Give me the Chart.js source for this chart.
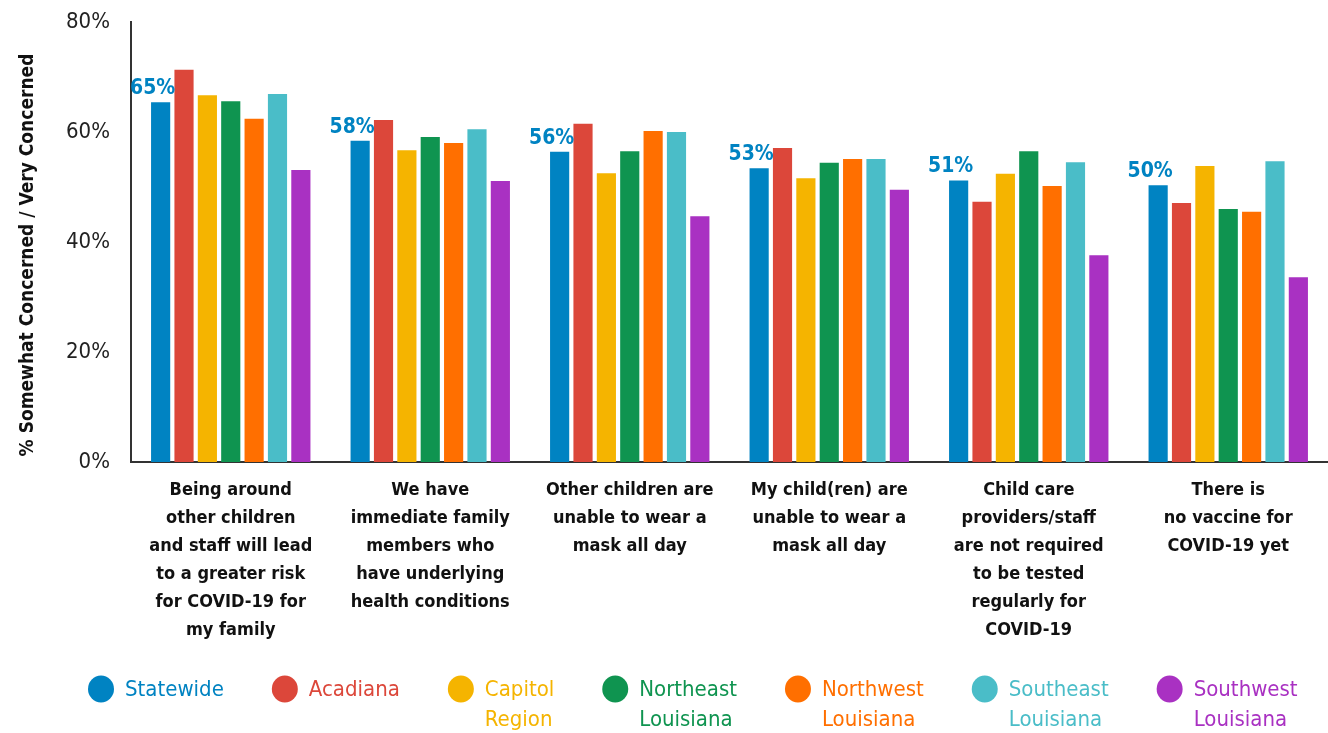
<!DOCTYPE html>
<html>
<head>
<meta charset="utf-8">
<script src="https://cdn.jsdelivr.net/npm/chart.js@4"></script>
<style>
  html, body { margin: 0; padding: 0; background: #fff; }
  #wrap { width: 1328px; height: 733px; position: relative; }
</style>
</head>
<body>
<div id="wrap"><canvas id="chart"></canvas></div>
<script>
"use strict";

const FONT = "'Liberation Sans Narrow', 'DejaVu Sans Condensed', 'Roboto', sans-serif";

// categories, one line per array entry
const categories = [
    ["Being around", "other children", "and staff will lead", "to a greater risk", "for COVID-19 for", "my family"],
    ["We have", "immediate family", "members who", "have underlying", "health conditions"],
    ["Other children are", "unable to wear a", "mask all day"],
    ["My child(ren) are", "unable to wear a", "mask all day"],
    ["Child care", "providers/staff", "are not required", "to be tested", "regularly for", "COVID-19"],
    ["There is", "no vaccine for", "COVID-19 yet"]
];

const regions = ["Statewide", "Acadiana", "Capitol\nRegion", "Northeast\nLouisiana", "Northwest\nLouisiana", "Southeast\nLouisiana", "Southwest\nLouisiana"];
const colors = ["#0083c2", "#dc473a", "#f5b400", "#0f9450", "#ff6f00", "#4abdc8", "#a931c2"];
const yTitle = "% Somewhat Concerned / Very Concerned";

// % somewhat / very concerned
const statewide = [65.4, 58.4, 56.4, 53.4, 51.2, 50.3];
const acadiana  = [71.3, 62.2, 61.5, 57.1, 47.3, 47.1];
const capitol   = [66.7, 56.7, 52.5, 51.6, 52.4, 53.8];
const northeast = [65.6, 59.1, 56.5, 54.4, 56.5, 46.0];
const northwest = [62.4, 58.0, 60.2, 55.1, 50.2, 45.5];
const southeast = [66.9, 60.5, 60.0, 55.1, 54.5, 54.7];
const southwest = [53.1, 51.1, 44.7, 49.5, 37.6, 33.6];

const seriesValues = [statewide, acadiana, capitol, northeast, northwest, southeast, southwest];
const yTicks = [0, 20, 40, 60, 80];

const canvas = document.getElementById("chart");
canvas.width = 1328;
canvas.height = 733;

Chart.defaults.font.family = FONT;
Chart.defaults.color = "#111";

// blue % labels above the statewide bars
const statewideLabels = {
    id: "statewideLabels",
    afterDatasetsDraw(chart) {
        const ctx = chart.ctx;
        const meta = chart.getDatasetMeta(0);
        ctx.save();
        ctx.font = "bold 21px " + FONT;
        ctx.fillStyle = colors[0];
        ctx.textAlign = "center";
        ctx.textBaseline = "alphabetic";
        meta.data.forEach((bar, i) => {
            ctx.fillText(Math.round(statewide[i]) + "%", bar.x - 8, bar.y - 8);
        });
        ctx.restore();
    }
};

// rotated y title, sits a bit lower than the axis middle
const sideTitle = {
    id: "sideTitle",
    afterDraw(chart) {
        const ctx = chart.ctx;
        const area = chart.chartArea;
        ctx.save();
        ctx.translate(28, (area.top + area.bottom) / 2 + 13);
        ctx.rotate(-Math.PI / 2);
        ctx.font = "bold 19px " + FONT;
        ctx.fillStyle = "#111";
        ctx.textAlign = "center";
        ctx.textBaseline = "middle";
        ctx.fillText(yTitle, 0, 0);
        ctx.restore();
    }
};

// legend with two line labels, drawn under the axis labels
const wrapLegend = {
    id: "wrapLegend",
    afterDraw(chart) {
        const ctx = chart.ctx;
        ctx.save();
        ctx.font = "22px " + FONT;
        ctx.textAlign = "left";
        ctx.textBaseline = "middle";
        let x = 88;
        const y = 690;
        chart.data.datasets.forEach((ds, i) => {
            const lines = regions[i].split("\n");
            ctx.fillStyle = ds.backgroundColor;
            ctx.beginPath();
            ctx.ellipse(x + 13, y - 1, 13, 13.5, 0, 0, Math.PI * 2);
            ctx.fill();
            const tx = x + 37;
            let w = 0;
            lines.forEach((line, j) => {
                ctx.fillText(line, tx, y + j * 30);
                w = Math.max(w, ctx.measureText(line).width);
            });
            x = tx + w + 48;
        });
        ctx.restore();
    }
};

new Chart(canvas, {
    type: "bar",
    data: {
        labels: categories,
        datasets: seriesValues.map((vals, i) => ({
            label: regions[i].replace("\n", " "),
            data: vals,
            backgroundColor: colors[i],
            borderWidth: 0,
            categoryPercentage: 0.82,
            barPercentage: 0.82
        }))
    },
    options: {
        responsive: false,
        animation: false,
        layout: { padding: { top: 22, left: 0, right: 0, bottom: 0 } },
        plugins: {
            legend: { display: false },
            tooltip: { enabled: false }
        },
        scales: {
            x: {
                grid: { display: false, drawTicks: false },
                border: { display: true, color: "#333", width: 2 },
                ticks: {
                    autoSkip: false,
                    maxRotation: 0,
                    minRotation: 0,
                    padding: 14,
                    color: "#111",
                    font: { size: 18, weight: "bold", lineHeight: 1.556 }
                },
                afterFit: (scale) => {
                    scale.height = 271;
                    scale.paddingLeft = 0;
                    scale.paddingRight = 0;
                }
            },
            y: {
                min: 0,
                max: 80,
                afterBuildTicks: (scale) => { scale.ticks = yTicks.map(v => ({ value: v })); },
                grid: { display: false, drawTicks: false },
                border: { display: true, color: "#333", width: 2 },
                ticks: {
                    padding: 21,
                    color: "#222",
                    font: { size: 22 },
                    callback: (v) => v + "%"
                },
                afterFit: (scale) => {
                    scale.width = 131;
                    scale.paddingTop = 0;
                    scale.paddingBottom = 0;
                }
            }
        }
    },
    plugins: [statewideLabels, sideTitle, wrapLegend]
});
</script>
</body>
</html>
